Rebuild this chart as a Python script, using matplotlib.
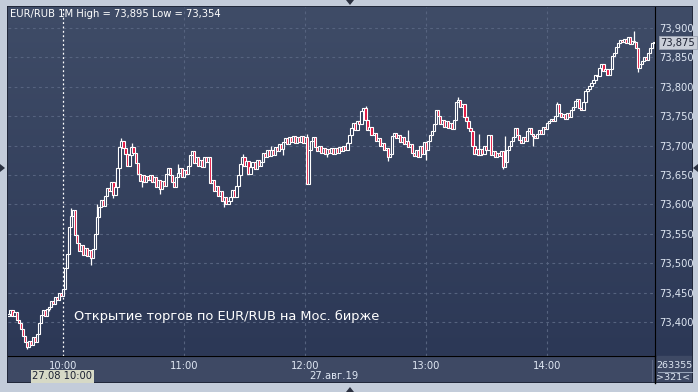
import numpy as np
import matplotlib.pyplot as plt
from matplotlib.patches import Polygon, Rectangle

# EUR/RUB 1-minute closes, 27.08.19, 09:33 .. 14:53 (321 bars)
closes = [
    73.414, 73.420, 73.410, 73.416, 73.404, 73.398, 73.388, 73.376, 73.366, 73.358,
    73.368, 73.360, 73.374, 73.366, 73.380, 73.398, 73.412, 73.420, 73.410, 73.422,
    73.426, 73.436, 73.430, 73.442, 73.438, 73.450, 73.444, 73.456, 73.492, 73.515,
    73.562, 73.580, 73.590, 73.548, 73.534, 73.520, 73.530, 73.514, 73.526, 73.512,
    73.522, 73.508, 73.524, 73.550, 73.578, 73.596, 73.608, 73.598, 73.614, 73.628,
    73.622, 73.638, 73.616, 73.630, 73.662, 73.698, 73.708, 73.696, 73.686, 73.666,
    73.684, 73.698, 73.688, 73.670, 73.652, 73.640, 73.650, 73.638, 73.648, 73.642,
    73.650, 73.638, 73.646, 73.630, 73.642, 73.626, 73.640, 73.632, 73.652, 73.662,
    73.650, 73.638, 73.630, 73.646, 73.654, 73.662, 73.646, 73.658, 73.652, 73.666,
    73.684, 73.690, 73.670, 73.680, 73.666, 73.676, 73.664, 73.680, 73.672, 73.680,
    73.636, 73.642, 73.622, 73.632, 73.614, 73.622, 73.606, 73.612, 73.600, 73.606,
    73.612, 73.624, 73.612, 73.632, 73.650, 73.668, 73.680, 73.666, 73.674, 73.652,
    73.664, 73.672, 73.660, 73.676, 73.666, 73.672, 73.688, 73.680, 73.692, 73.682,
    73.692, 73.684, 73.698, 73.690, 73.702, 73.694, 73.706, 73.712, 73.702, 73.714,
    73.706, 73.716, 73.704, 73.714, 73.706, 73.716, 73.704, 73.714, 73.635, 73.692,
    73.708, 73.714, 73.698, 73.690, 73.700, 73.688, 73.696, 73.686, 73.694, 73.688,
    73.696, 73.686, 73.696, 73.688, 73.698, 73.690, 73.700, 73.692, 73.704, 73.718,
    73.730, 73.738, 73.726, 73.742, 73.736, 73.758, 73.764, 73.744, 73.726, 73.732,
    73.718, 73.722, 73.708, 73.712, 73.700, 73.704, 73.692, 73.696, 73.680, 73.686,
    73.716, 73.722, 73.712, 73.718, 73.706, 73.714, 73.702, 73.708, 73.698, 73.702,
    73.688, 73.682, 73.692, 73.680, 73.700, 73.686, 73.706, 73.692, 73.708, 73.718,
    73.724, 73.736, 73.760, 73.750, 73.736, 73.744, 73.732, 73.742, 73.730, 73.738,
    73.728, 73.744, 73.774, 73.778, 73.766, 73.770, 73.748, 73.742, 73.730, 73.724,
    73.700, 73.686, 73.694, 73.684, 73.694, 73.686, 73.700, 73.692, 73.718, 73.684,
    73.690, 73.680, 73.688, 73.682, 73.690, 73.664, 73.672, 73.692, 73.700, 73.708,
    73.714, 73.730, 73.718, 73.710, 73.704, 73.714, 73.708, 73.724, 73.730, 73.720,
    73.716, 73.712, 73.720, 73.726, 73.720, 73.732, 73.728, 73.738, 73.742, 73.746,
    73.742, 73.750, 73.770, 73.756, 73.748, 73.754, 73.746, 73.756, 73.748, 73.760,
    73.766, 73.776, 73.780, 73.764, 73.760, 73.774, 73.792, 73.796, 73.802, 73.806,
    73.812, 73.820, 73.818, 73.832, 73.838, 73.826, 73.830, 73.820, 73.830, 73.852,
    73.858, 73.868, 73.874, 73.880, 73.876, 73.882, 73.874, 73.884, 73.872, 73.878,
    73.876, 73.866, 73.832, 73.838, 73.844, 73.850, 73.846, 73.858, 73.866, 73.874,
    73.875,
]
first_open = 73.410
first_minute = -27          # minutes from 10:00

# notable shadows
wick_hi_idx = [31, 44, 56, 61, 84, 116, 130, 148, 168, 177, 198, 223, 246, 272, 290, 310]
wick_hi_val = [73.594, 73.600, 73.712, 73.704, 73.668, 73.686, 73.700, 73.720, 73.706,
               73.768, 73.726, 73.782, 73.716, 73.774, 73.808, 73.895]
wick_lo_idx = [9, 20, 41, 52, 66, 75, 107, 136, 158, 188, 207, 233, 245, 260, 312]
wick_lo_val = [73.354, 73.418, 73.497, 73.610, 73.630, 73.618, 73.596, 73.684, 73.680,
               73.674, 73.676, 73.720, 73.660, 73.700, 73.825]

hour_ticks = [0, 60, 120, 180, 240]
hour_labels = ['10:00', '11:00', '12:00', '13:00', '14:00']
price_ticks = [73.40, 73.45, 73.50, 73.55, 73.60, 73.65, 73.70, 73.75, 73.80, 73.85, 73.90]

W, H = 698, 392
BG_TOP, BG_BOT = '#3f4c67', '#2c3856'
FRAME = '#c3ccda'
PANEL = '#3e4964'
RED = '#e3143e'
TXT = '#dfe7f3'

fig = plt.figure(figsize=(W / 100, H / 100), dpi=100)
fig.patch.set_facecolor(FRAME)

def box(x0, y0, x1, y1):
    # pixel box (top-left origin) -> figure fraction rect
    return [x0 / W, 1 - y1 / H, (x1 - x0) / W, (y1 - y0) / H]

# background: gradient for chart + price scale, flat panel for time scale
bg = fig.add_axes(box(7, 6, 693, 383))
bg.set_axis_off()
bg.set_xlim(0, 1)
bg.set_ylim(0, 1)
grad = np.linspace(0, 1, 256)[:, None]
cmap = plt.matplotlib.colors.LinearSegmentedColormap.from_list('g', [BG_TOP, BG_BOT])
bg.imshow(grad, aspect='auto', cmap=cmap, extent=[0, 1, (383 - 356) / 377, 1], zorder=0)
bg.add_patch(Rectangle((0, 0), 1, (383 - 356) / 377, color=PANEL, zorder=1))
bg.add_patch(Rectangle((0, 0), 1, 1, fill=False, ec='#1c2233', lw=1.2, zorder=3))

ax = fig.add_axes(box(8, 7, 655, 356))
ax.set_facecolor('none')
ax.set_xlim(-27.27, 293.5)
ax.set_ylim(73.342, 73.9357)

# grid
for p in price_ticks:
    ax.axhline(p, color='#56637f', lw=0.8, dashes=(2.5, 3), zorder=1)
for m in hour_ticks[1:]:
    ax.axvline(m, color='#56637f', lw=0.8, dashes=(2.5, 3), zorder=1)
ax.axvline(0, color='white', lw=0.9, dashes=(1.5, 2), zorder=2)

# candles
closes_a = np.array(closes)
opens_a = np.concatenate([[first_open], closes_a[:-1]])
xs = np.arange(len(closes_a)) + first_minute
highs = np.maximum(opens_a, closes_a)
lows = np.minimum(opens_a, closes_a)
highs[wick_hi_idx] = wick_hi_val
lows[wick_lo_idx] = wick_lo_val

ax.vlines(xs, lows, highs, color='white', lw=0.9, zorder=3)
body = np.where(np.abs(closes_a - opens_a) < 0.0015, 0.0015, closes_a - opens_a)
fc = [RED if c < o else BG_BOT for o, c in zip(opens_a, closes_a)]
ax.bar(xs, body, bottom=opens_a, width=1.1, facecolor=fc, edgecolor='white',
       linewidth=0.8, zorder=4)

# axes / ticks
for s in ax.spines.values():
    s.set_visible(False)
ax.spines['right'].set_visible(True)
ax.spines['right'].set_color('black')
ax.spines['bottom'].set_visible(True)
ax.spines['bottom'].set_color('black')
ax.yaxis.tick_right()
ax.set_yticks(price_ticks)
ax.set_yticklabels([f'{p:.3f}'.replace('.', ',') for p in price_ticks])
ax.tick_params(axis='y', length=0, pad=3, labelsize=7.2, labelcolor=TXT)
ax.set_xticks(hour_ticks)
ax.set_xticklabels(hour_labels)
ax.tick_params(axis='x', length=0, pad=3.5, labelsize=7.2, labelcolor=TXT)

ax.text(0.003, 0.995, 'EUR/RUB 1M High = 73,895 Low = 73,354', transform=ax.transAxes,
        ha='left', va='top', fontsize=7.2, color='white', zorder=6)
ax.text(5.5, 73.41, 'Открытие торгов по EUR/RUB на Мос. бирже', ha='left', va='center',
        fontsize=9.4, color='white', zorder=6)

# last price marker on the scale
ax.annotate('73,875', xy=(1.0, closes[-1]), xycoords=('axes fraction', 'data'),
            xytext=(4, 0), textcoords='offset points', ha='left', va='center',
            fontsize=7.2, color='#1d2233', annotation_clip=False, zorder=7,
            bbox=dict(boxstyle='square,pad=0.15', fc='#c9ced8', ec='#9aa2b2', lw=0.6))

# labels in time panel
fig.text(62 / W, 1 - 376 / H, '27.08 10:00', ha='center', va='center', fontsize=7.2,
         color='#1d2233', bbox=dict(boxstyle='square,pad=0.15', fc='#d6d9c6', ec='none'))
fig.text(334 / W, 1 - 376 / H, '27.авг.19', ha='center', va='center', fontsize=7.2, color=TXT)
fig.text(674 / W, 1 - 365 / H, '263355', ha='center', va='center', fontsize=6.8, color=TXT)
fig.text(673 / W, 1 - 378 / H, '>321<', ha='center', va='center', fontsize=6.8, color=TXT)
fig.add_artist(plt.Line2D([658 / W, 692 / W], [1 - 372 / H, 1 - 372 / H], color='#9aa6bb', lw=0.7))
fig.add_artist(plt.Line2D([652 / W, 652 / W], [1 - 360 / H, 1 - 381 / H], color='#5a6580', lw=0.8))
fig.add_artist(plt.Line2D([655 / W, 655 / W], [1 - 356 / H, 1 - 383 / H], color='black', lw=1))

# small frame arrows
def tri(pts):
    fig.add_artist(Polygon([(x / W, 1 - y / H) for x, y in pts], closed=True,
                           fc='#2a3040', ec='none'))
tri([(346, 0), (354, 0), (350, 5)])
tri([(346, 392), (354, 392), (350, 387)])
tri([(0, 164), (0, 172), (5, 168)])
tri([(698, 164), (698, 172), (693, 168)])

plt.savefig('out.png', dpi=100, facecolor=fig.get_facecolor())
